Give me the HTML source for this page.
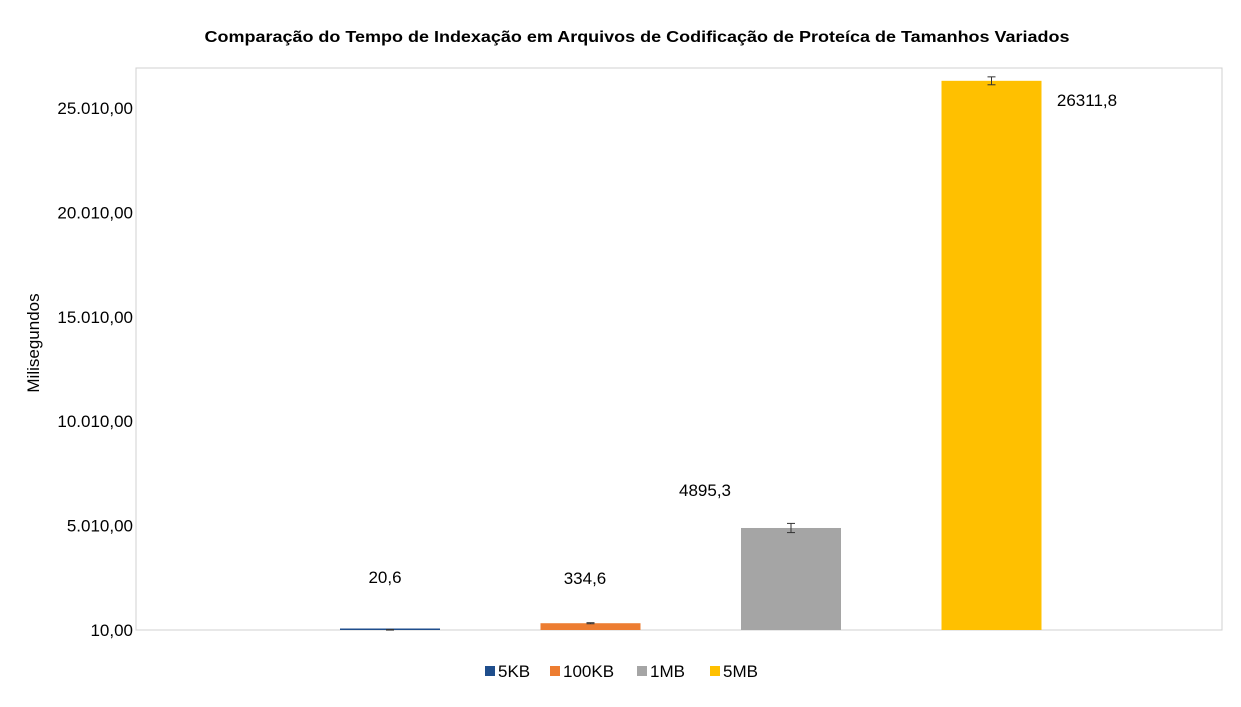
<!DOCTYPE html>
<html><head><meta charset="utf-8"><style>
body{margin:0;background:#fff;font-family:"Liberation Sans",sans-serif}
</style></head><body>
<svg id="chart" width="1241" height="702" xmlns="http://www.w3.org/2000/svg" font-family="Liberation Sans, sans-serif">
<rect width="1241" height="702" fill="#fff"/>
<text x="637" y="42" text-anchor="middle" font-size="16" font-weight="bold" textLength="865" lengthAdjust="spacingAndGlyphs">Comparação do Tempo de Indexação em Arquivos de Codificação de Proteíca de Tamanhos Variados</text>
<rect x="136" y="68" width="1086" height="562" fill="none" stroke="#d0d0d0"/>
<text transform="translate(39,343) rotate(-90)" text-anchor="middle" font-size="17">Milisegundos</text>
<g id="ticks"></g><g id="bars"></g><g id="legend"></g>
</svg>
<script>
const categories=["5KB","100KB","1MB","5MB"];
const values=[20.6,334.6,4895.3,26311.8];
const errors=[15,25,220,190];
const labels=["20,6","334,6","4895,3","26311,8"];
const colors=["#1f4e8c","#ed7d31","#a5a5a5","#ffc000"];
const tickVals=[10,5010,10010,15010,20010,25010];
const tickLabels=["10,00","5.010,00","10.010,00","15.010,00","20.010,00","25.010,00"];
const NS="http://www.w3.org/2000/svg";
function y(v){return 630-(v-10)*(522/25000);}
function xc(i){return 390+i*200.5;}
function mk(t,a,p){const e=document.createElementNS(NS,t);for(const k in a)e.setAttribute(k,a[k]);p.appendChild(e);return e;}
const tg=document.getElementById('ticks');
tickVals.forEach((v,i)=>{const t=mk('text',{x:133,y:y(v)+6,'text-anchor':'end','font-size':17},tg);t.textContent=tickLabels[i];

});
mk('line',{x1:136,x2:1222,y1:630,y2:630,stroke:'#d0d0d0'},tg);
const bg=document.getElementById('bars');
const lblPos=[[385,583],[585,584],[705,496],[1087,106]];
values.forEach((v,i)=>{
 const top=y(v);const h=Math.max(630-top,1.5);
 const r=mk('rect',{x:xc(i)-50,y:630-h,width:100,height:h,fill:colors[i]},bg);
 
 
 const e1=y(v+errors[i]),e2=y(v-errors[i]);
 mk('line',{x1:xc(i),x2:xc(i),y1:e1,y2:e2,stroke:'#333'},bg);
 mk('line',{x1:xc(i)-4,x2:xc(i)+4,y1:e1,y2:e1,stroke:'#333'},bg);
 mk('line',{x1:xc(i)-4,x2:xc(i)+4,y1:e2,y2:e2,stroke:'#333'},bg);
 const t=mk('text',{x:lblPos[i][0],y:lblPos[i][1],'text-anchor':'middle','font-size':17},bg);t.textContent=labels[i];
 
 
});
const lg=document.getElementById('legend');
const lx=[485,550,637,710];
categories.forEach((c,i)=>{
 const g=mk('g',{},lg);
 
 
 mk('rect',{x:lx[i],y:666,width:10,height:10,fill:colors[i]},g);
 const t=mk('text',{x:lx[i]+13,y:677,'font-size':17},g);t.textContent=c;
});
</script>
</body></html>
